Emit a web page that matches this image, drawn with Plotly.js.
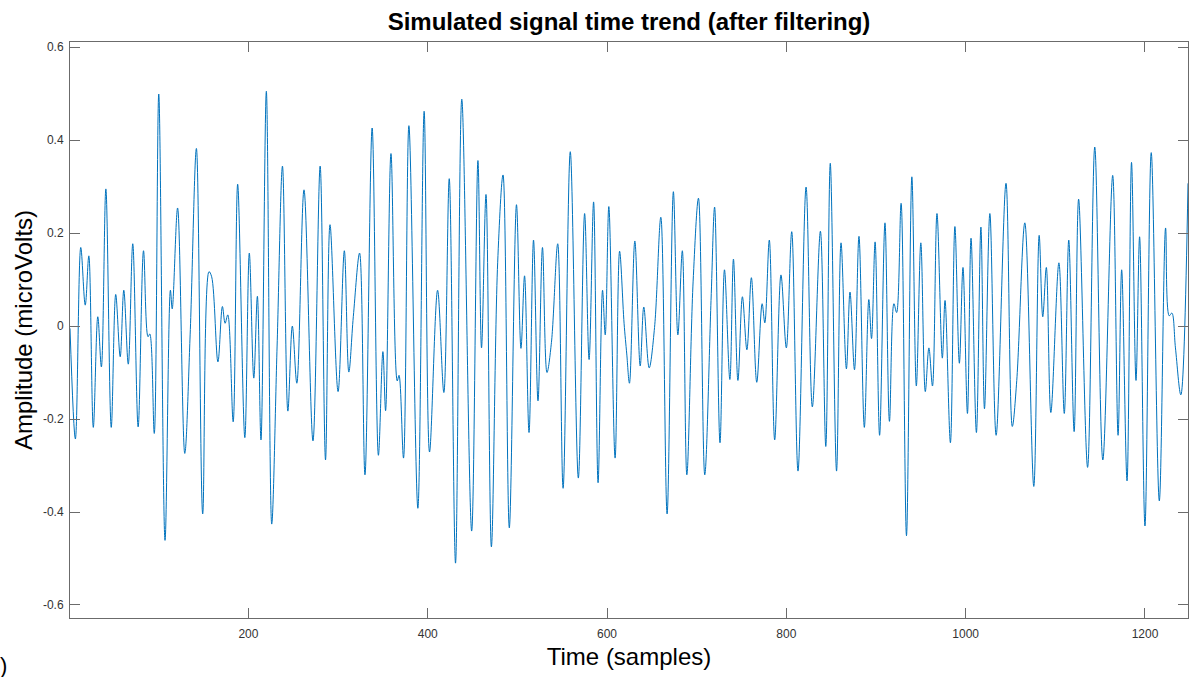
<!DOCTYPE html>
<html>
<head>
<meta charset="utf-8">
<script src="https://cdn.plot.ly/plotly-3.0.1.min.js"></script>
<style>
  html, body { margin: 0; padding: 0; background: #ffffff; }
  #chart { width: 1201px; height: 677px; }
</style>
</head>
<body>
<div id="chart"></div>
<script>
// Sample index of each turning point of the filtered signal
const samples = [
  1, 7, 13, 18, 22, 27, 32, 36, 41, 47, 52, 57, 61, 66, 71, 77, 83, 88, 90, 95,
  100, 107, 113, 115, 121, 129, 135, 142, 149, 156, 159, 166, 171, 174, 177, 183, 188, 196, 201, 206,
  210, 214, 220, 226, 232, 238, 244, 249, 254, 262, 272, 280, 286, 291, 300, 307, 312, 317, 324, 330,
  338, 345, 350, 353, 359, 366, 368, 373, 379, 389, 396, 402, 411, 418, 424, 431, 438, 449, 456, 460,
  465, 471, 478, 484, 491, 499, 504, 508, 513, 518, 523, 528, 533, 538, 545, 551, 559, 568, 575, 580,
  585, 590, 595, 598, 602, 609, 614, 619, 622, 625, 631, 637, 641, 647, 653, 660, 667, 674, 679, 684,
  689, 696, 702, 709, 716, 720, 726, 731, 737, 741, 746, 751, 756, 761, 767, 773, 776, 781, 787, 794,
  800, 806, 813, 822, 829, 838, 844, 849, 856, 861, 867, 871, 876, 881, 887, 892, 895, 899, 904, 910,
  915, 920, 923, 928, 934, 940, 945, 950, 955, 959, 963, 968, 974, 977, 983, 988, 993, 997, 1002, 1006,
  1012, 1017, 1021, 1027, 1034, 1045, 1052, 1057, 1066, 1076, 1082, 1086, 1090, 1095, 1104, 1110, 1115, 1121, 1126, 1136,
  1144, 1153, 1164, 1170, 1174, 1180, 1185, 1190, 1194, 1200, 1207, 1216, 1223, 1227, 1230, 1234, 1240, 1248
];
// Amplitude (microVolts) at those samples
const amplitude = [
  -0.005, -0.243, 0.169, 0.045, 0.151, -0.218, 0.020, -0.088, 0.295, -0.218, 0.068, -0.066, 0.077, -0.082, 0.177, -0.217, 0.162, -0.023, -0.017, -0.231,
  0.499, -0.461, 0.077, 0.037, 0.254, -0.274, -0.019, 0.382, -0.404, 0.117, 0.106, -0.077, 0.042, 0.006, 0.024, -0.206, 0.305, -0.240, 0.157, -0.112,
  0.064, -0.245, 0.505, -0.426, -0.043, 0.344, -0.183, 0.000, -0.123, 0.293, -0.247, 0.344, -0.288, 0.218, -0.141, 0.162, -0.099, 0.020, 0.157, -0.320,
  0.426, -0.278, -0.055, -0.182, 0.371, -0.118, -0.106, -0.284, 0.431, -0.392, 0.462, -0.271, 0.077, -0.143, 0.317, -0.510, 0.488, -0.441, 0.356, -0.047,
  0.283, -0.475, 0.136, 0.325, -0.434, 0.261, -0.048, 0.108, -0.229, 0.185, -0.161, 0.169, -0.100, -0.035, 0.177, -0.349, 0.375, -0.327, 0.242, -0.072,
  0.267, -0.337, 0.077, -0.019, 0.257, -0.284, 0.161, 0.006, -0.060, -0.123, 0.183, -0.086, 0.041, -0.090, -0.003, 0.234, -0.404, 0.289, -0.019, 0.162,
  -0.320, 0.095, 0.275, -0.320, 0.055, 0.256, -0.251, 0.121, -0.115, 0.144, -0.117, 0.063, -0.051, 0.104, -0.121, 0.048, 0.007, 0.185, -0.245, 0.110,
  -0.047, 0.203, -0.312, 0.299, -0.174, 0.204, -0.259, 0.350, -0.312, 0.179, -0.092, 0.073, -0.094, 0.193, -0.218, 0.057, -0.027, 0.181, -0.235, 0.222,
  -0.205, 0.048, 0.029, 0.264, -0.451, 0.321, -0.129, 0.179, -0.141, -0.047, -0.129, 0.242, -0.069, 0.055, -0.251, 0.214, -0.080, 0.126, -0.188, 0.189,
  -0.229, 0.213, -0.178, 0.242, -0.235, 0.307, -0.216, -0.117, 0.222, -0.345, 0.195, 0.020, 0.126, -0.186, 0.136, -0.188, 0.185, -0.227, 0.273, -0.304,
  0.385, -0.288, 0.324, -0.235, 0.121, -0.333, 0.352, -0.117, 0.192, -0.430, 0.373, -0.376, 0.211, 0.022, 0.028, -0.047, -0.148, 0.307
];
const xTickVals = [200, 400, 600, 800, 1000, 1200];
const xTickText = ["200", "400", "600", "800", "1000", "1200"];
const yTickVals = [-0.6, -0.4, -0.2, 0, 0.2, 0.4, 0.6];
const yTickText = ["-0.6", "-0.4", "-0.2", "0", "0.2", "0.4", "0.6"];

const trace = {
  x: samples,
  y: amplitude,
  type: 'scatter',
  mode: 'lines',
  line: { color: '#0072BD', width: 1, shape: 'spline', smoothing: 1 },
  hoverinfo: 'x+y'
};

const axisCommon = {
  showgrid: false,
  zeroline: false,
  showline: true,
  linecolor: '#6b6b6b',
  linewidth: 1,
  mirror: 'ticks',
  ticks: 'inside',
  ticklen: 10,
  tickwidth: 1,
  tickcolor: '#6b6b6b',
  tickfont: { family: 'Liberation Sans, Arial, sans-serif', size: 12, color: '#333333' },
  tickmode: 'array'
};

const layout = {
  width: 1201,
  height: 677,
  paper_bgcolor: '#ffffff',
  plot_bgcolor: '#ffffff',
  margin: { l: 70, r: 13, t: 42, b: 59 },
  showlegend: false,
  title: {
    text: '<b>Simulated signal time trend (after filtering)</b>',
    font: { family: 'Liberation Sans, Arial, sans-serif', size: 24, color: '#000000' },
    x: 0.5, xref: 'paper', xanchor: 'center',
    y: 1 - 22 / 677, yref: 'container', yanchor: 'middle'
  },
  xaxis: Object.assign({}, axisCommon, {
    range: [1, 1248],
    tickvals: xTickVals,
    ticktext: xTickText,
    ticklabelstandoff: 5,
    title: { text: 'Time (samples)', font: { family: 'Liberation Sans, Arial, sans-serif', size: 24, color: '#000000' }, standoff: 7 }
  }),
  yaxis: Object.assign({}, axisCommon, {
    range: [-0.628, 0.611],
    tickvals: yTickVals,
    ticktext: yTickText,
    ticklabelstandoff: 3,
    title: { text: 'Amplitude (microVolts)', font: { family: 'Liberation Sans, Arial, sans-serif', size: 24, color: '#000000' }, standoff: 3 }
  }),
  annotations: [{
    text: ')', showarrow: false,
    xref: 'paper', yref: 'paper',
    x: (9 - 70) / 1118, y: (618 - 665) / 576,
    xanchor: 'right', yanchor: 'middle',
    font: { family: 'Liberation Sans, Arial, sans-serif', size: 22, color: '#000000' }
  }]
};

Plotly.newPlot('chart', [trace], layout, { displayModeBar: false, staticPlot: false });
</script>
</body>
</html>
